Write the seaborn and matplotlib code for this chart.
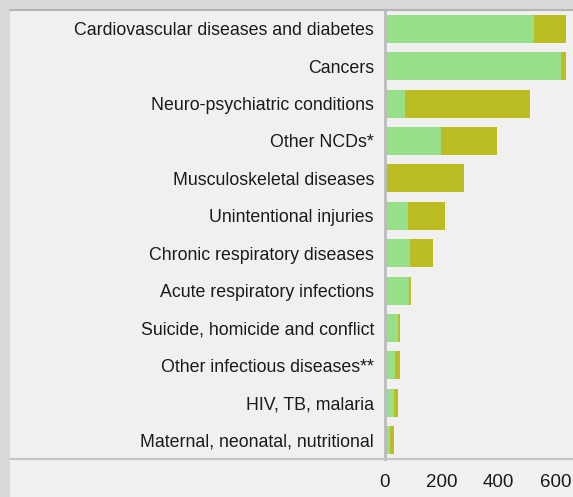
import matplotlib
matplotlib.use("Agg")
import matplotlib.pyplot as plt
from matplotlib.lines import Line2D
from matplotlib.patches import Rectangle
import pandas as pd
import seaborn as sns

# values
categories = [
    "Cardiovascular diseases and diabetes",
    "Cancers",
    "Neuro-psychiatric conditions",
    "Other NCDs*",
    "Musculoskeletal diseases",
    "Unintentional injuries",
    "Chronic respiratory diseases",
    "Acute respiratory infections",
    "Suicide, homicide and conflict",
    "Other infectious diseases**",
    "HIV, TB, malaria",
    "Maternal, neonatal, nutritional",
]
deaths = [524, 619, 70, 197, 0, 81, 88, 84, 46, 35, 32, 18]
disability = [112, 17, 440, 197, 278, 130, 81, 7, 7, 18, 14, 14]
x_ticks = [0, 200, 400, 600]

GREEN = "#98df8a"
OLIVE = "#bcbd22"
PANEL = "#f0f0f0"
OUTER = "#d9d9d9"

df = pd.DataFrame({"category": categories, "deaths": deaths, "disability": disability})
df["total"] = df["deaths"] + df["disability"]

sns.set_style("white")
plt.rcParams["font.family"] = ["Liberation Sans", "DejaVu Sans"]

W, H = 573, 497
fig = plt.figure(figsize=(W / 100, H / 100), dpi=100, facecolor=OUTER)

# light panel behind the chart
fig.patches.append(Rectangle((10 / W, 0), 1, 1 - 9 / H, transform=fig.transFigure,
                             facecolor=PANEL, edgecolor="none", zorder=-10))
fig.lines.append(Line2D([10 / W, 1], [1 - 9.5 / H, 1 - 9.5 / H], transform=fig.transFigure,
                        color="#b5b5b5", lw=1.5))

ax = fig.add_axes([385 / W, 1 - 459 / H, 1 - 385 / W, (459 - 10) / H])
ax.set_facecolor(PANEL)

sns.barplot(data=df, y="category", x="total", color=OLIVE, orient="h",
            width=0.75, saturation=1, linewidth=0, ax=ax)
sns.barplot(data=df, y="category", x="deaths", color=GREEN, orient="h",
            width=0.75, saturation=1, linewidth=0, ax=ax)

ax.set_xlim(0, 661)
ax.set_ylim(11.5, -0.5)
ax.set_xticks(x_ticks)
ax.set_xlabel("")
ax.set_ylabel("")

for side in ["top", "right", "bottom"]:
    ax.spines[side].set_visible(False)
ax.spines["left"].set_color("#bbbbbb")
ax.spines["left"].set_linewidth(2)
ax.spines["left"].set_zorder(5)

ax.tick_params(axis="y", length=0, pad=8, labelsize=12.8, labelcolor="#1a1a1a")
ax.tick_params(axis="x", length=5, width=1.5, color="#b0b0b0", pad=6,
               labelsize=13.5, labelcolor="#1a1a1a")

# baseline running across the whole panel
fig.lines.append(Line2D([10 / W, 1], [1 - 459 / H, 1 - 459 / H], transform=fig.transFigure,
                        color="#c4c4c4", lw=1.5))

fig.savefig("out.png", dpi=100, facecolor=OUTER)
